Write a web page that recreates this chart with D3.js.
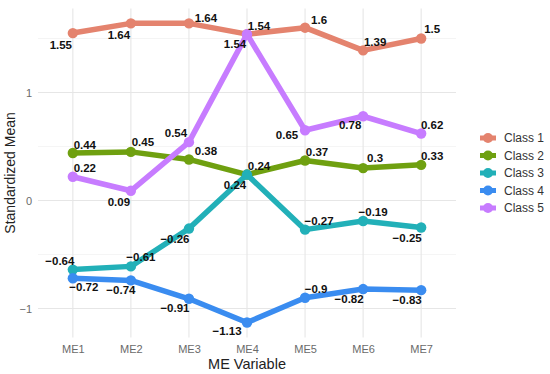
<!DOCTYPE html>
<html>
<head>
	<meta charset="utf-8">
	<script src="https://d3js.org/d3.v7.min.js"></script>
	<title>Standardized Mean by ME Variable</title>
	<style>
		body { margin: 0; background: #fff; }
		text { font-family: "Liberation Sans", Arial, sans-serif; }
	</style>
</head>
<body>
	<div id="chart"></div>

	<script type="text/javascript">

		// data
		var variables = ["ME1", "ME2", "ME3", "ME4", "ME5", "ME6", "ME7"];
		var classNames = ["Class 1", "Class 2", "Class 3", "Class 4", "Class 5"];
		var class1 = [1.55, 1.64, 1.64, 1.54, 1.6, 1.39, 1.5];
		var class2 = [0.44, 0.45, 0.38, 0.24, 0.37, 0.3, 0.33];
		var class3 = [-0.64, -0.61, -0.26, 0.24, -0.27, -0.19, -0.25];
		var class4 = [-0.72, -0.74, -0.91, -1.13, -0.9, -0.82, -0.83];
		var class5 = [0.22, 0.09, 0.54, 1.54, 0.65, 0.78, 0.62];
		var yTicks = [-1, 0, 1];
		var yMinorTicks = [-0.5, 0.5, 1.5];

		var colors = ["#e4836e", "#6fa010", "#22b0b8", "#3a8cf0", "#c77cff"];

		// label nudges (repel-ish), one per point, [dx, dy] in px
		var nudges = [
			[[-12, 12], [-12, 12], [17, -5], [12, -8], [14, -8], [12, -8], [11, -10]],
			[[12, -8], [12, -10], [17, -8], [12, -9], [12, -9], [12, -10], [11, -9]],
			[[-13, -9], [10, -9], [-14, 10], [-12, 10], [14, -9], [10, -9], [-14, 10]],
			[[11, 9], [-10, 10], [-14, 9], [-20, 8], [11, -9], [-14, 10], [-14, 10]],
			[[12, -9], [-12, 11], [-13, -9], [-12, 10], [-18, 5], [-13, 9], [11, -9]]
		];

		var series = [class1, class2, class3, class4, class5].map(function(vals, i){
			return {
				name: classNames[i],
				color: colors[i],
				points: vals.map(function(v, j){
					return {x: variables[j], y: v, nudge: nudges[i][j]};
				})
			};
		});

		var svgwidth = 550;
		var svgheight = 374;
		var panel = {left: 38, right: 456, top: 8.4, bottom: 337.5};

		var allVals = [].concat(class1, class2, class3, class4, class5);
		var lo = d3.min(allVals), hi = d3.max(allVals);
		var pad = (hi - lo) * 0.05;

		var xScale = d3.scalePoint()
						.domain(variables)
						.range([panel.left, panel.right])
						.padding(0.6);

		var yScale = d3.scaleLinear()
						.domain([lo - pad, hi + pad])
						.range([panel.bottom, panel.top]);

		var svg = d3.select("#chart").append("svg")
						.attr("width", svgwidth)
						.attr("height", svgheight);

		// grid
		var grid = svg.append("g");
		grid.selectAll(".minor")
			.data(yMinorTicks).enter().append("line")
			.attr("x1", panel.left).attr("x2", panel.right)
			.attr("y1", function(d){ return yScale(d); })
			.attr("y2", function(d){ return yScale(d); })
			.attr("stroke", "#efefef")
			.attr("stroke-width", 0.7);
		grid.selectAll(".major")
			.data(yTicks).enter().append("line")
			.attr("x1", panel.left).attr("x2", panel.right)
			.attr("y1", function(d){ return yScale(d); })
			.attr("y2", function(d){ return yScale(d); })
			.attr("stroke", "#e6e6e6")
			.attr("stroke-width", 1.1);
		grid.selectAll(".vmajor")
			.data(variables).enter().append("line")
			.attr("x1", function(d){ return xScale(d); })
			.attr("x2", function(d){ return xScale(d); })
			.attr("y1", panel.top).attr("y2", panel.bottom)
			.attr("stroke", "#e6e6e6")
			.attr("stroke-width", 1.1);

		// axes (no lines, only labels)
		var xAxis = svg.append("g")
			.attr("transform", "translate(0," + panel.bottom + ")")
			.call(d3.axisBottom(xScale).tickSize(0).tickPadding(8));
		xAxis.select(".domain").remove();
		xAxis.selectAll("text")
			.attr("font-size", "11px")
			.attr("font-family", "Liberation Sans, Arial, sans-serif")
			.attr("fill", "#6a6a6a");

		var yAxis = svg.append("g")
			.attr("transform", "translate(" + panel.left + ",0)")
			.call(d3.axisLeft(yScale).tickValues(yTicks).tickSize(0).tickPadding(6)
				.tickFormat(function(d){ return d < 0 ? "\u2212" + Math.abs(d) : d; }));
		yAxis.select(".domain").remove();
		yAxis.selectAll("text")
			.attr("font-size", "11px")
			.attr("font-family", "Liberation Sans, Arial, sans-serif")
			.attr("fill", "#6a6a6a");

		svg.append("text")
			.attr("x", (panel.left + panel.right) / 2)
			.attr("y", 369)
			.attr("text-anchor", "middle")
			.attr("font-size", "14.5px")
			.attr("fill", "#222")
			.text("ME Variable");

		svg.append("text")
			.attr("transform", "translate(15," + ((panel.top + panel.bottom) / 2) + ") rotate(-90)")
			.attr("text-anchor", "middle")
			.attr("font-size", "14px")
			.attr("fill", "#222")
			.text("Standardized Mean");

		// lines + points
		var line = d3.line()
			.x(function(d){ return xScale(d.x); })
			.y(function(d){ return yScale(d.y); });

		var groups = svg.selectAll(".series")
			.data(series).enter().append("g")
			.attr("class", "series");

		groups.append("path")
			.attr("d", function(d){ return line(d.points); })
			.attr("fill", "none")
			.attr("stroke", function(d){ return d.color; })
			.attr("stroke-width", 5.5)
			.attr("stroke-linejoin", "round");

		groups.selectAll("circle")
			.data(function(d){ return d.points.map(function(p){ return {p: p, color: d.color}; }); })
			.enter().append("circle")
			.attr("cx", function(d){ return xScale(d.p.x); })
			.attr("cy", function(d){ return yScale(d.p.y); })
			.attr("r", 5.2)
			.attr("fill", function(d){ return d.color; });

		// value labels on top
		var labels = svg.append("g");
		series.forEach(function(s){
			labels.selectAll(null)
				.data(s.points).enter().append("text")
				.attr("x", function(d){ return xScale(d.x) + d.nudge[0]; })
				.attr("y", function(d){ return yScale(d.y) + d.nudge[1]; })
				.attr("dy", "0.35em")
				.attr("text-anchor", "middle")
				.attr("font-size", "11.5px")
				.attr("font-weight", "bold")
				.attr("fill", "#111")
				.text(function(d){ return d.y < 0 ? "\u2212" + Math.abs(d.y) : d.y; });
		});

		// legend
		var legend = svg.append("g").attr("transform", "translate(480,138)");
		var items = legend.selectAll(".item")
			.data(series).enter().append("g")
			.attr("transform", function(d, i){ return "translate(0," + (i * 17.5) + ")"; });
		items.append("line")
			.attr("x1", 0).attr("x2", 16)
			.attr("stroke", function(d){ return d.color; })
			.attr("stroke-width", 5);
		items.append("circle")
			.attr("cx", 8).attr("r", 5)
			.attr("fill", function(d){ return d.color; });
		items.append("text")
			.attr("x", 24)
			.attr("dy", "0.35em")
			.attr("font-size", "12px")
			.attr("fill", "#333")
			.text(function(d){ return d.name; });

	</script>
</body>
</html>
